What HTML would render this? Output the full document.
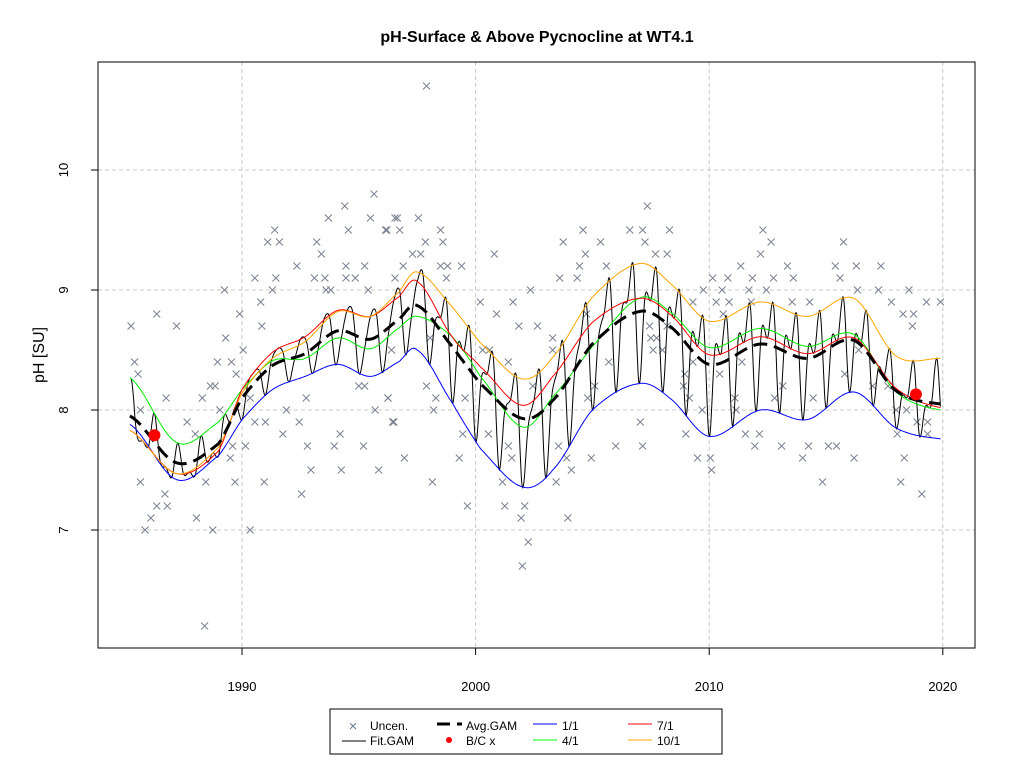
<!DOCTYPE html>
<html><head><meta charset="utf-8"><style>
body{margin:0;background:#fff;}
svg text{font-family:"Liberation Sans",Arial,sans-serif;}
</style></head><body>
<svg id="chart" width="1024" height="768" xmlns="http://www.w3.org/2000/svg">
<rect width="1024" height="768" fill="#fff"/>
<text x="537" y="42" text-anchor="middle" font-size="16" font-weight="bold">pH-Surface &amp; Above Pycnocline at WT4.1</text>
<text transform="translate(44,355) rotate(-90)" text-anchor="middle" font-size="16">pH [SU]</text>
<g id="grid"></g>
<g id="marks"></g>
<rect x="98" y="62" width="877" height="586" fill="none" stroke="#000" stroke-width="1"/>
<g id="axes"></g>
<g>
<rect x="330" y="709" width="392" height="45" fill="#fff" stroke="#000"/>
<g><text x="353" y="731" font-size="15" fill="#708090" text-anchor="middle">×</text><text x="370" y="730" font-size="12">Uncen.</text></g>
<g><line x1="342" y1="741" x2="366" y2="741" stroke="#000"/><text x="370" y="745" font-size="12">Fit.GAM</text></g>
<g><line x1="437" y1="724" x2="450" y2="724" stroke="#000" stroke-width="3"/><line x1="457" y1="724" x2="462" y2="724" stroke="#000" stroke-width="3"/><text x="466" y="730" font-size="12">Avg.GAM</text></g>
<g><circle cx="449" cy="740" r="3" fill="#f00"/><text x="466" y="745" font-size="12">B/C x</text></g>
<g><line x1="533" y1="724" x2="557" y2="724" stroke="#00f"/><text x="562" y="730" font-size="12">1/1</text></g>
<g><line x1="533" y1="740" x2="557" y2="740" stroke="#0f0"/><text x="562" y="745" font-size="12">4/1</text></g>
<g><line x1="628" y1="724" x2="652" y2="724" stroke="#f00"/><text x="657" y="730" font-size="12">7/1</text></g>
<g><line x1="628" y1="740" x2="652" y2="740" stroke="#ffa500"/><text x="657" y="745" font-size="12">10/1</text></g>
</g>
</svg>
<script>
const xTicks=[1990,2000,2010,2020];
const yTicks=[7,8,9,10];
const knots=[1985.2,1987.2,1989,1990,1991.3,1992.7,1994.1,1995.5,1996.7,1997.5,1999,2000.2,2002,2003.3,2005,2007,2008.3,2010,2012.2,2014.2,2016.2,2018,2019.9];
const jan1=[7.88,7.42,7.62,7.92,8.17,8.28,8.38,8.28,8.4,8.5,8.06,7.68,7.36,7.5,8.0,8.22,8.1,7.78,8.0,7.92,8.15,7.85,7.76];
const apr1=[8.27,7.73,7.9,8.17,8.41,8.43,8.6,8.51,8.68,8.78,8.61,8.28,7.86,8.11,8.53,8.93,8.82,8.52,8.68,8.53,8.63,8.15,8.0];
const jul1=[7.83,7.47,7.66,8.17,8.48,8.61,8.83,8.78,8.94,9.07,8.61,8.36,8.04,8.28,8.73,8.93,8.8,8.46,8.61,8.47,8.6,8.18,8.02];
const oct1=[7.83,7.47,7.69,8.14,8.43,8.57,8.82,8.78,8.98,9.15,8.86,8.56,8.26,8.44,8.94,9.22,9.06,8.74,8.9,8.78,8.93,8.45,8.43];
const avgGam=[7.95,7.56,7.72,8.1,8.37,8.47,8.66,8.59,8.75,8.87,8.53,8.22,7.93,8.08,8.55,8.82,8.7,8.38,8.55,8.43,8.58,8.16,8.05];
const bcYears=[1986.25,2018.85];
const bcValues=[7.79,8.13];
const obsYears=[1995.65,1994.4,1993.7,1995.5,1996.55,1991.4,1994.55,1996.15,1991.1,1991.6,1993.2,1993.4,1992.35,1994.45,1995.25,1990.55,1991.45,1993.1,1993.55,1994.45,1994.85,1989.25,1991.3,1993.6,1993.8,1995.4,1990.8,1986.35,1989.9,1985.25,1987.2,1990.85,1989.3,1990.05,1985.4,1988.95,1989.55,1985.55,1989.75,1988.65,1988.85,1995.0,1995.25,1986.75,1988.3,1990.35,1992.75,1996.25,1985.65,1989.05,1991.9,1995.7,1987.65,1990.55,1991.0,1992.45,1996.45,1991.75,1994.2,1988.0,1992.8,1993.95,1995.2,1989.6,1990.15,1989.5,1992.95,1994.25,1995.85,1985.65,1988.45,1989.7,1990.95,1986.7,1992.55,1985.85,1986.1,1986.35,1986.8,1988.4,1988.75,1988.05,1990.35,1997.9,
1996.65,1997.55,1996.2,1996.75,1998.5,1997.85,1998.6,1997.3,1997.65,2000.8,1996.9,1998.5,1998.8,1999.4,1996.55,1998.75,2002.35,2000.2,2001.6,2000.9,2001.85,2002.65,1998.05,1996.4,2000.3,2000.6,2001.4,1997.9,2002.45,1996.25,1998.3,1999.55,1998.2,1996.5,1999.45,2000.55,2001.4,1996.95,1999.3,2001.55,1998.15,2001.15,1999.65,2001.25,2002.1,2001.95,2003.95,2002.25,2002.0,
2007.35,2004.6,2006.6,2007.15,2008.3,2003.75,2005.35,2007.25,2004.7,2007.7,2008.2,2004.45,2005.6,2003.6,2004.35,2004.75,2007.45,2008.2,2003.3,2007.5,2007.75,2007.6,2008.0,2003.3,2005.7,2005.1,2004.8,2007.05,2003.55,2006.0,2007.15,2003.9,2004.95,2004.1,2003.45,
2012.3,2012.65,2015.75,2012.2,2011.35,2013.35,2015.4,2016.3,2017.35,2010.15,2010.8,2011.85,2012.75,2013.6,2015.6,2009.75,2010.55,2011.7,2012.45,2016.35,2017.25,2018.55,2009.3,2010.3,2010.85,2011.8,2013.55,2014.3,2017.8,2019.3,2019.9,2010.6,2018.3,2018.75,2018.7,2009.3,2011.4,2016.4,2008.95,2010.45,2015.8,2008.9,2013.15,2017.0,2017.65,2009.15,2011.1,2012.8,2014.45,2009.7,2011.15,2018.0,2018.45,2018.9,2019.35,2009.0,2011.55,2012.15,2018.05,2019.35,2011.95,2013.1,2014.25,2015.1,2015.45,2009.5,2010.05,2014.0,2016.2,2018.35,2010.1,2014.85,2018.2,2019.1];
const obsValues=[9.8,9.7,9.6,9.6,9.6,9.5,9.5,9.5,9.4,9.4,9.4,9.3,9.2,9.2,9.2,9.1,9.1,9.1,9.1,9.1,9.1,9.0,9.0,9.0,9.0,9.0,8.9,8.8,8.8,8.7,8.7,8.7,8.6,8.5,8.4,8.4,8.4,8.3,8.3,8.2,8.2,8.2,8.2,8.1,8.1,8.1,8.1,8.1,8.0,8.0,8.0,8.0,7.9,7.9,7.9,7.9,7.9,7.8,7.8,7.8,7.7,7.7,7.7,7.7,7.7,7.6,7.5,7.5,7.5,7.4,7.4,7.4,7.4,7.3,7.3,7.0,7.1,7.2,7.2,6.2,7.0,7.1,7.0,10.7,
9.6,9.6,9.5,9.5,9.5,9.4,9.4,9.3,9.3,9.3,9.2,9.2,9.2,9.2,9.1,9.1,9.0,8.9,8.9,8.8,8.7,8.7,8.6,8.5,8.5,8.5,8.4,8.2,8.2,8.1,8.1,8.1,8.0,7.9,7.8,7.8,7.7,7.6,7.6,7.6,7.4,7.4,7.2,7.2,7.2,7.1,7.1,6.9,6.7,
9.7,9.5,9.5,9.5,9.5,9.4,9.4,9.4,9.3,9.3,9.3,9.2,9.2,9.1,9.1,8.8,8.7,8.7,8.6,8.6,8.6,8.5,8.5,8.5,8.4,8.2,8.1,7.9,7.7,7.7,7.7,7.6,7.6,7.5,7.4,
9.5,9.4,9.4,9.3,9.2,9.2,9.2,9.2,9.2,9.1,9.1,9.1,9.1,9.1,9.1,9.0,9.0,9.0,9.0,9.0,9.0,9.0,8.9,8.9,8.9,8.9,8.9,8.9,8.9,8.9,8.9,8.8,8.8,8.8,8.7,8.4,8.4,8.5,8.3,8.3,8.3,8.2,8.2,8.2,8.2,8.1,8.1,8.1,8.1,8.0,8.0,8.0,8.0,7.9,7.9,7.8,7.8,7.8,7.8,7.8,7.7,7.7,7.7,7.7,7.7,7.6,7.6,7.6,7.6,7.6,7.5,7.4,7.4,7.3];

const NS='http://www.w3.org/2000/svg';
const X0=98,X1=975,Y0=62,Y1=648;
function xs(t){return 242+(t-1990)*23.36;}
function ys(v){return 410-(v-8)*120;}
function mk(tag,attrs,parent){const e=document.createElementNS(NS,tag);for(const k in attrs)e.setAttribute(k,attrs[k]);parent.appendChild(e);return e;}
function herm(p0,p1,p2,p3,u){const m1=(p2-p0)/2,m2=(p3-p1)/2,u2=u*u,u3=u2*u;
  return (2*u3-3*u2+1)*p1+(u3-2*u2+u)*m1+(-2*u3+3*u2)*p2+(u3-u2)*m2;}
function evalCurve(vals,t){
  let i=0;while(i<knots.length-2&&t>knots[i+1])i++;
  const t0=knots[i],t1=knots[i+1];let u=(t-t0)/(t1-t0);u=Math.max(-0.2,Math.min(1.2,u));
  return herm(vals[Math.max(0,i-1)],vals[i],vals[i+1],vals[Math.min(vals.length-1,i+2)],u);
}
const grid=document.getElementById('grid'),marks=document.getElementById('marks'),axes=document.getElementById('axes');
xTicks.forEach(t=>{
  const l=mk('line',{x1:xs(t),x2:xs(t),y1:Y0,y2:Y1,stroke:'#c8c8c8','stroke-dasharray':'4,3'},grid);
  
  const k=mk('line',{x1:xs(t),x2:xs(t),y1:Y1,y2:Y1+7,stroke:'#000'},axes);
  
  const tx=mk('text',{x:xs(t),y:691,'text-anchor':'middle','font-size':'13'},axes);tx.textContent=t;
  
});
yTicks.forEach(v=>{
  const l=mk('line',{x1:X0,x2:X1,y1:ys(v),y2:ys(v),stroke:'#c8c8c8','stroke-dasharray':'4,3'},grid);
  
  const k=mk('line',{x1:X0-7,x2:X0,y1:ys(v),y2:ys(v),stroke:'#000'},axes);
  
  const tx=mk('text',{transform:`translate(68,${ys(v)}) rotate(-90)`,'text-anchor':'middle','font-size':'13'},axes);tx.textContent=v;
  
});
obsYears.forEach((t,i)=>{
  const x=xs(t),y=ys(obsValues[i]),s=3.5;
  const p=mk('path',{d:`M${x-s},${y-s}L${x+s},${y+s}M${x-s},${y+s}L${x+s},${y-s}`,stroke:'#7a8290','stroke-width':'1',fill:'none'},marks);
  
});
// fit gam: periodic blend of seasonal curves
const series=[jan1,apr1,jul1,oct1];
function fitAt(t){
  const ph=(t-Math.floor(t))*4;const k=Math.floor(ph),u=ph-k;
  const v=j=>evalCurve(series[((j%4)+4)%4],t);
  return herm(v(k-1),v(k),v(k+1),v(k+2),u);
}
let d='';
for(let t=1985.25;t<=2019.9;t+=1/48){d+=(d?'L':'M')+xs(t).toFixed(1)+','+ys(fitAt(t)).toFixed(1);}
const fit=mk('path',{d:d,stroke:'#000','stroke-width':'1',fill:'none'},marks);

function curvePath(vals){let s='';for(let t=knots[0];t<=knots[knots.length-1]+1e-6;t+=0.05){s+=(s?'L':'M')+xs(t).toFixed(1)+','+ys(evalCurve(vals,t)).toFixed(1);}return s;}
const cfg=[[jan1,'#0000ff','seasonal-1-1-line'],[apr1,'#00ee00','seasonal-4-1-line'],[jul1,'#ff0000','seasonal-7-1-line'],[oct1,'#ffa500','seasonal-10-1-line']];
cfg.forEach(c=>{const p=mk('path',{d:curvePath(c[0]),stroke:c[1],'stroke-width':'1',fill:'none'},marks);
  });
const avg=mk('path',{d:curvePath(avgGam),stroke:'#000','stroke-width':'3',fill:'none','stroke-dasharray':'14,7'},marks);

bcYears.forEach((t,i)=>{const c=mk('circle',{cx:xs(t),cy:ys(bcValues[i]),r:6,fill:'#f00'},marks);
  });
</script>
</body></html>
